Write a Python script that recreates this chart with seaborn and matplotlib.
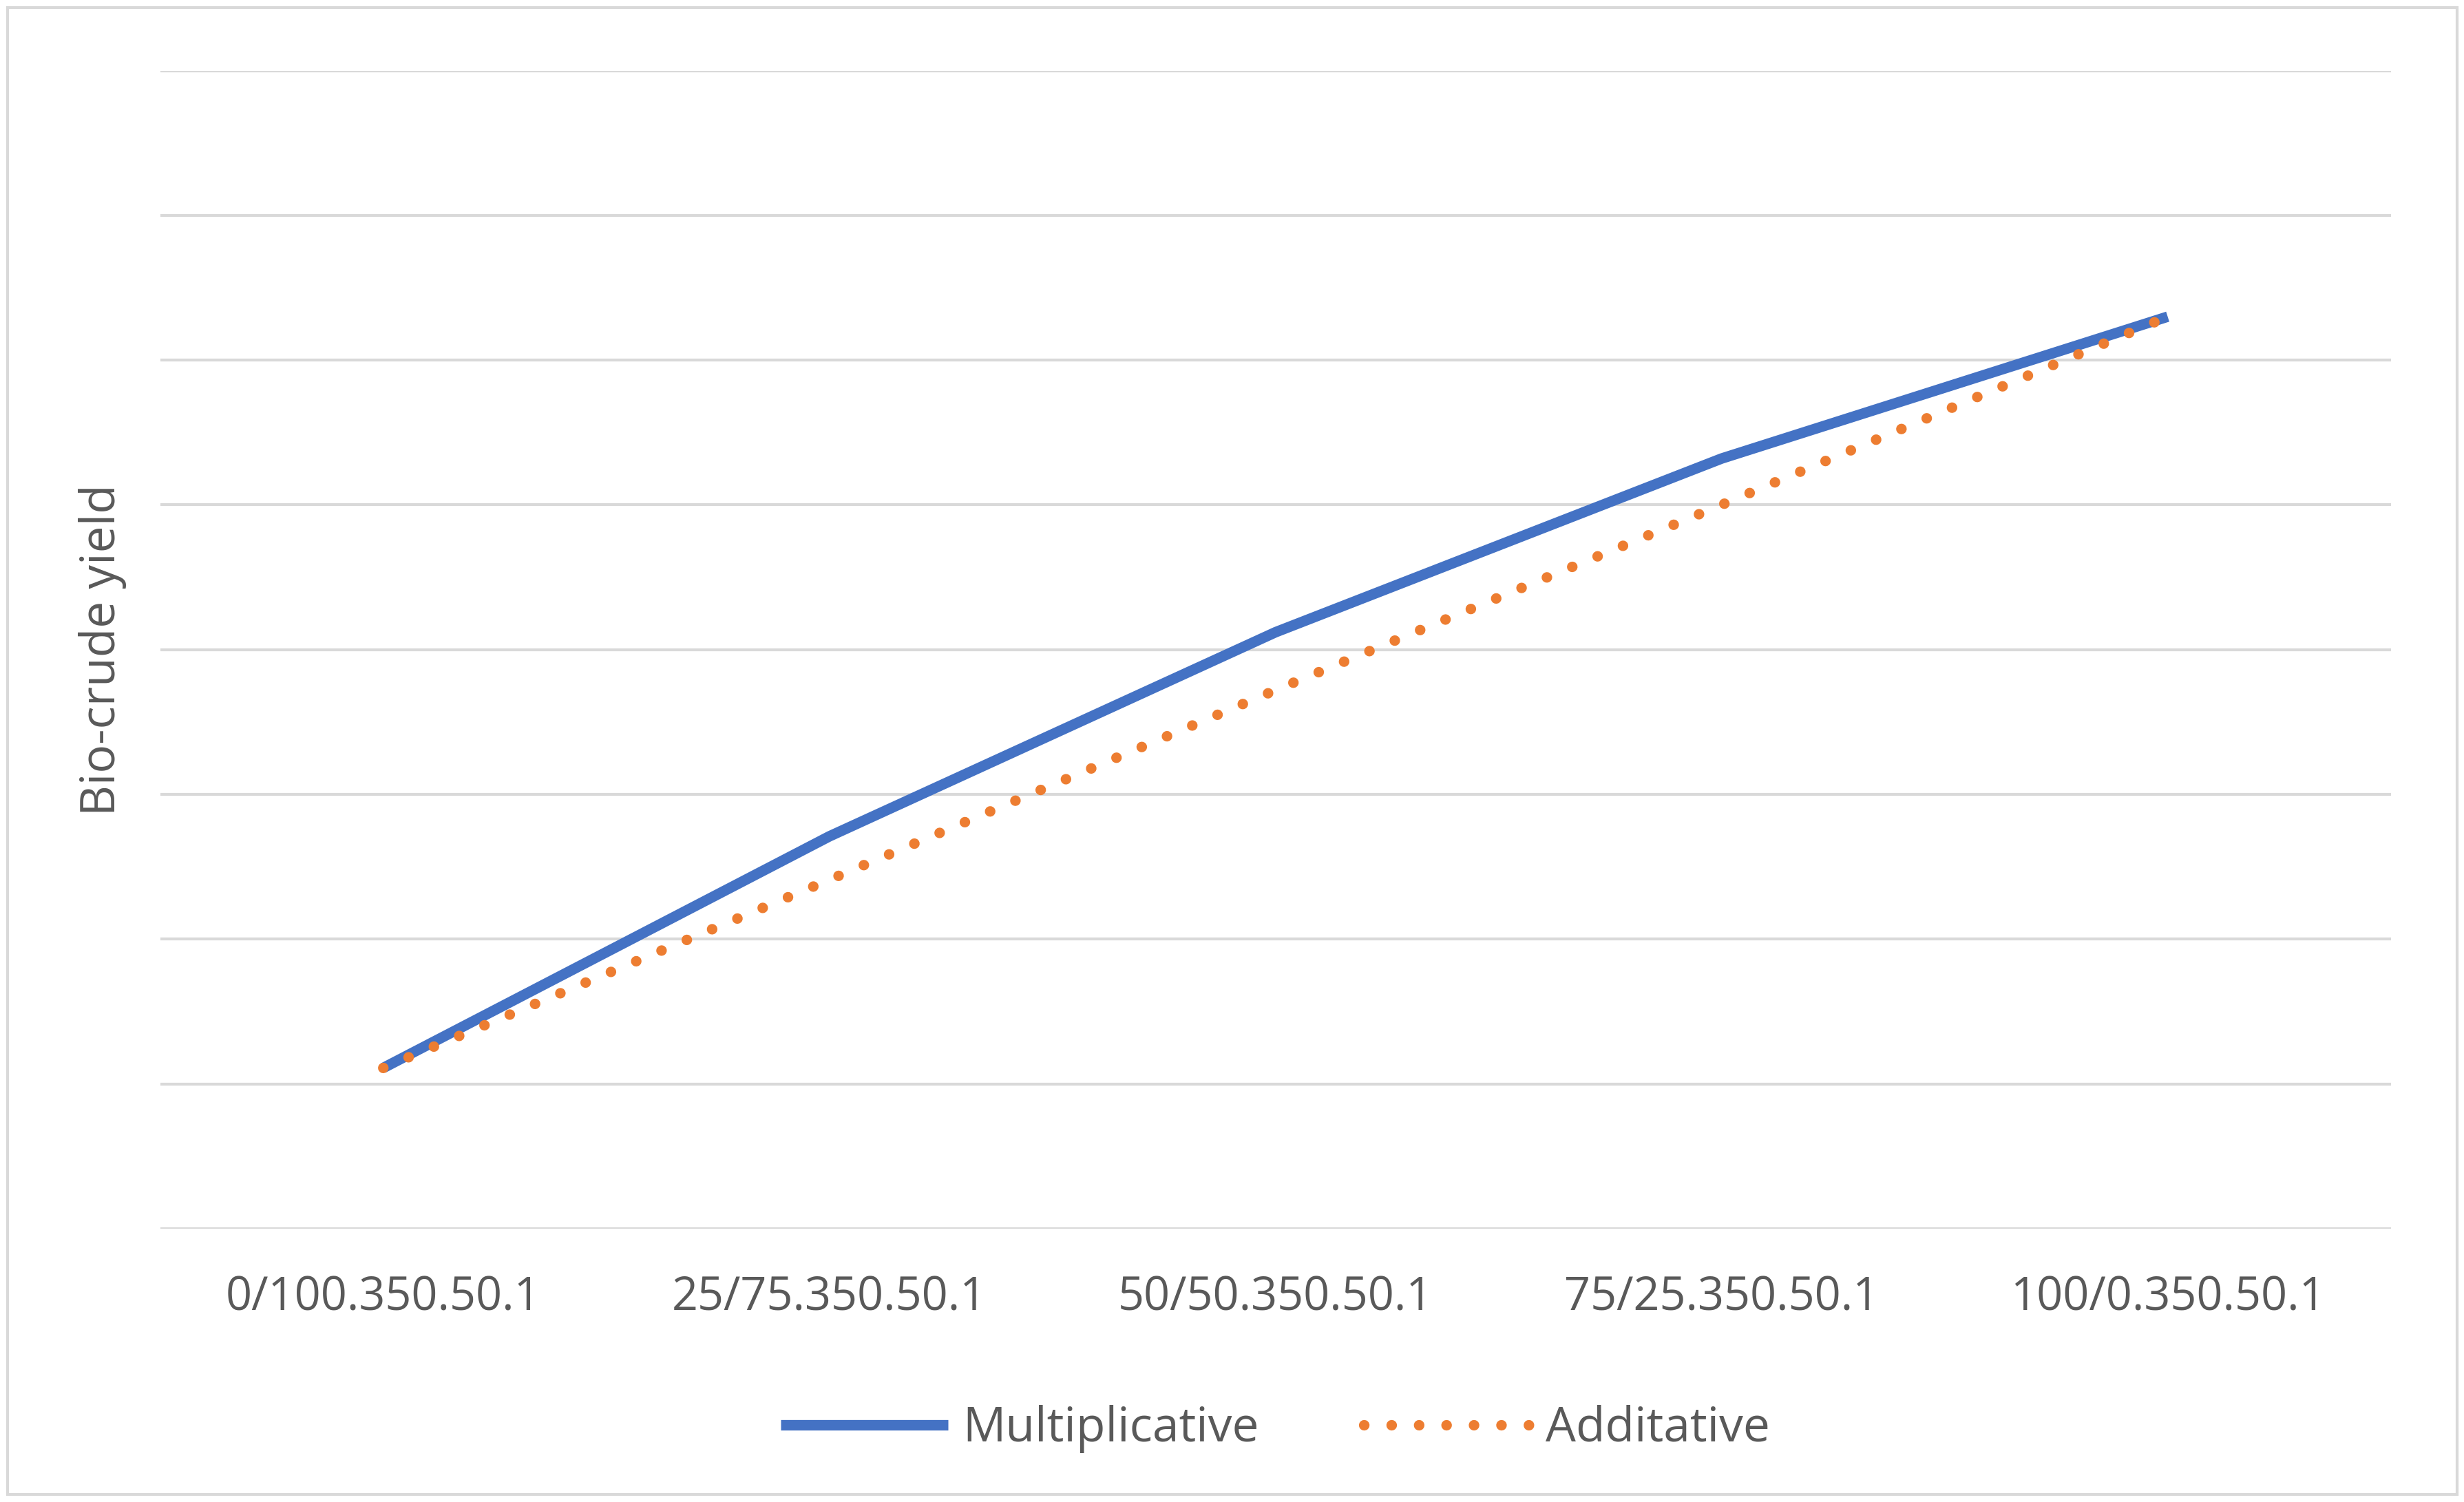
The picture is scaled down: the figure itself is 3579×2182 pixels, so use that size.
import matplotlib
matplotlib.use("Agg")
import matplotlib.pyplot as plt
import seaborn as sns
import pandas as pd

categories = ["0/100.350.50.1", "25/75.350.50.1", "50/50.350.50.1", "75/25.350.50.1", "100/0.350.50.1"]
multiplicative = [1.11, 2.71, 4.12, 5.32, 6.30]
additative = [1.11, 2.41, 3.72, 5.00, 6.30]

sns.set_theme(style="white")
plt.rcParams['font.family'] = ['Open Sans', 'DejaVu Sans']

df = pd.DataFrame({"x": list(range(len(categories))) * 2,
                   "y": multiplicative + additative,
                   "s": ["Multiplicative"] * 5 + ["Additative"] * 5})

fig = plt.figure(figsize=(17.9, 10.91), dpi=200)
ax = fig.add_axes([0.065, 0.182, 0.905, 0.771])
sns.lineplot(data=df[df.s == "Multiplicative"], x="x", y="y", ax=ax, color="#4472C4",
             lw=5.5, label="Multiplicative", solid_capstyle="butt")
sns.lineplot(data=df[df.s == "Additative"], x="x", y="y", ax=ax, color="#ED7D31",
             lw=5.5, label="Additative")
ax.lines[-1].set_dashes([0.01, 2.6])
ax.lines[-1].set_dash_capstyle("round")

ax.set_xlim(-0.5, 4.5)
ax.set_ylim(0, 8)
ax.set_yticks(range(0, 9))
ax.set_yticklabels([])
ax.tick_params(axis='y', length=0)
ax.set_xticks(range(5))
ax.set_xticklabels(categories, fontsize=24, color="#595959")
ax.tick_params(axis='x', length=0, pad=24)
ax.grid(axis='y', color="#D9D9D9", lw=1.5)
for s in ax.spines.values():
    s.set_visible(False)
ax.set_xlabel("")
ax.set_ylabel("Bio-crude yield", fontsize=25, color="#595959", labelpad=14)

leg = ax.legend(loc="upper center", bbox_to_anchor=(0.5, -0.115), ncol=2, frameon=False,
                fontsize=25, labelcolor="#595959", handlelength=3.5, columnspacing=2.2,
                handletextpad=0.3)
leg.get_lines()[1].set_dashes([0.01, 2.6])
leg.get_lines()[1].set_dash_capstyle("round")

fig.patches.append(plt.Rectangle((0.003, 0.005), 0.994, 0.99, transform=fig.transFigure,
                                 fill=False, edgecolor="#D9D9D9", lw=1.5))
fig.savefig("out.png", dpi=200, facecolor="white")
